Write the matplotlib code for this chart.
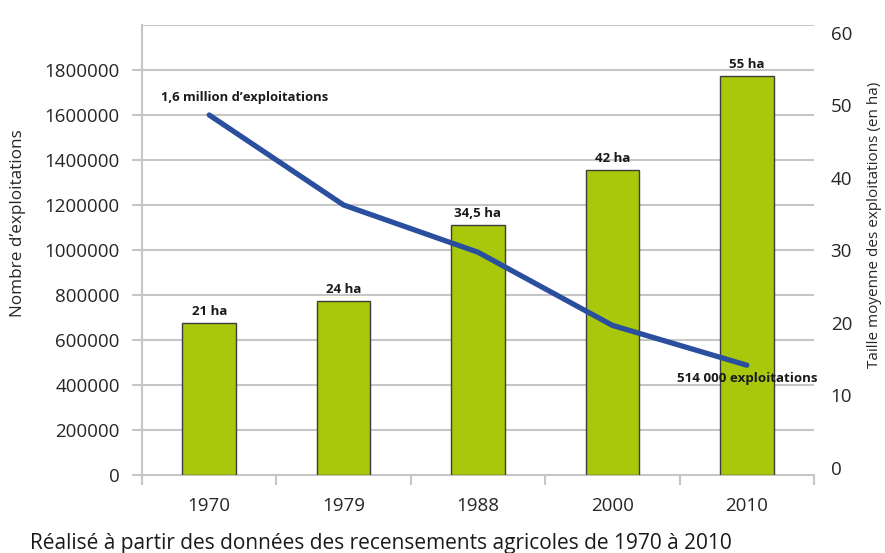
import numpy as np
import matplotlib
matplotlib.use("Agg")
import matplotlib.pyplot as plt
import matplotlib.transforms as mtransforms

# data
years = ["1970", "1979", "1988", "2000", "2010"]
farms = [1600000, 1200000, 990000, 665000, 488000]     # nombre d'exploitations
size_ha = [21, 24, 34.5, 42, 55]                          # taille moyenne (ha)
size_labels = ["21 ha", "24 ha", "34,5 ha", "42 ha", "55 ha"]
left_ticks = [0, 200000, 400000, 600000, 800000, 1000000, 1200000, 1400000, 1600000, 1800000]
right_ticks = [0, 10, 20, 30, 40, 50, 60]

plt.rcParams["font.family"] = ["Open Sans", "DejaVu Sans"]
txt = "#262626"
grid_c = "#c6c6c6"
bar_c = "#a9c80b"
line_c = "#2a4f9f"

fig = plt.figure(figsize=(8.85, 5.53), dpi=100)
rect = [142 / 885, 1 - 475 / 553, (814 - 142) / 885, 450 / 553]
x = np.arange(len(years))

# base axes: grid + left scale
ax = fig.add_axes(rect)
ax.set_xlim(-0.5, len(years) - 0.5)
ax.set_ylim(0, 2000000)
ax.set_yticks(left_ticks)
ax.set_yticklabels([str(v) for v in left_ticks])
for v in left_ticks[1:] + [2000000]:
    ax.axhline(v, color=grid_c, lw=1.5, zorder=0)
ax.set_xticks(np.arange(-0.5, len(years), 1.0))
ax.set_xticklabels([])
ax.set_xticks(x, minor=True)
ax.set_xticklabels(years, minor=True)
ax.tick_params(axis="x", which="major", length=7, color=grid_c, width=1.5, direction="out")
ax.tick_params(axis="x", which="minor", length=0, pad=16, labelsize=13.5, labelcolor=txt)
ax.tick_params(axis="y", length=7, color=grid_c, width=1.5, pad=9, labelsize=13.5, labelcolor=txt)
for s in ["top", "right"]:
    ax.spines[s].set_visible(False)
ax.spines["left"].set_color(grid_c)
ax.spines["left"].set_linewidth(1.5)
ax.spines["bottom"].set_color(grid_c)
ax.spines["bottom"].set_linewidth(1.5)

# bars on right scale
ax2 = ax.twinx()
ax2.set_ylim(0, 62)
ax2.bar(x, size_ha, width=0.4, color=bar_c, edgecolor="#3c3c3c", linewidth=1.0, zorder=2)
ax2.set_yticks(right_ticks)
ax2.tick_params(axis="y", length=0, pad=12, labelsize=13.5, labelcolor=txt)
offset = mtransforms.ScaledTranslation(0, 7 / 100, fig.dpi_scale_trans)
for lab in ax2.get_yticklabels():
    lab.set_transform(lab.get_transform() + offset)
for s in ax2.spines.values():
    s.set_visible(False)
for xi, h, lab in zip(x, size_ha, size_labels):
    ax2.annotate(lab, xy=(xi, h), xytext=(0, 5), textcoords="offset pixels",
                 ha="center", va="bottom", fontsize=9.5, fontweight="bold", color="#1a1a1a")

# line on left scale
ax3 = fig.add_axes(rect, sharex=ax, sharey=ax)
ax3.patch.set_visible(False)
ax3.axis("off")
ax3.plot(x, farms, color=line_c, lw=3.8, solid_capstyle="round", solid_joinstyle="round", zorder=3)
ax3.annotate("1,6 million d\u2019exploitations", xy=(x[0], farms[0]), xytext=(-48, 17),
             textcoords="offset pixels", ha="left", va="center",
             fontsize=9.4, fontweight="bold", color="#1a1a1a")
ax3.annotate("514 000 exploitations", xy=(x[-1], farms[-1]), xytext=(0, -13),
             textcoords="offset pixels", ha="center", va="center",
             fontsize=9.6, fontweight="bold", color="#1a1a1a")

fig.text(18 / 885, 1 - 223 / 553, "Nombre d\u2019exploitations", rotation=90,
         ha="center", va="center", fontsize=12.3, color=txt)
fig.text(875 / 885, 1 - 225 / 553, "Taille moyenne des exploitations (en ha)", rotation=90,
         ha="center", va="center", fontsize=11, color=txt)
fig.text(30 / 885, 1 - 543 / 553,
         "R\u00e9alis\u00e9 \u00e0 partir des donn\u00e9es des recensements agricoles de 1970 \u00e0 2010",
         ha="left", va="center", fontsize=15, color="#1a1a1a")

fig.savefig("out.png", dpi=100)
